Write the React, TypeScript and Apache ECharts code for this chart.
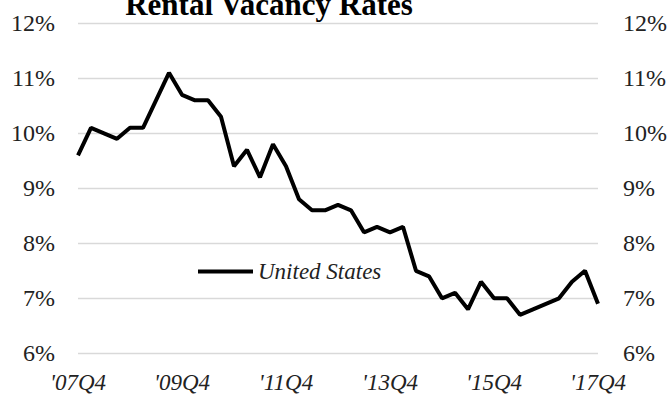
import React, { useEffect, useRef } from "react";
import * as echarts from "echarts";

const categories: string[] = [];
const years = [7, 8, 9, 10, 11, 12, 13, 14, 15, 16, 17];
years.forEach((y, i) => {
  const yy = (y < 10 ? "0" : "") + y;
  if (i === 0) categories.push(`'${yy}Q4`);
  else ["Q1", "Q2", "Q3", "Q4"].forEach((q) => categories.push(`'${yy}${q}`));
});

const unitedStates = [
  9.6, 10.1, 10.0, 9.9, 10.1, 10.1, 10.6, 11.1, 10.7, 10.6, 10.6, 10.3, 9.4, 9.7,
  9.2, 9.8, 9.4, 8.8, 8.6, 8.6, 8.7, 8.6, 8.2, 8.3, 8.2, 8.3, 7.5, 7.4, 7.0, 7.1,
  6.8, 7.3, 7.0, 7.0, 6.7, 6.8, 6.9, 7.0, 7.3, 7.5, 6.9,
];

const titleText = "Rental Vacancy Rates";
const seriesName = "United States";
const yMin = 6;
const yMax = 12;

const FONT = "Liberation Serif";

export default function App() {
  const ref = useRef<HTMLDivElement>(null);
  useEffect(() => {
    if (!ref.current) return;
    const chart = echarts.init(ref.current, undefined, { renderer: "svg" });
    const labelStyle = {
      fontFamily: FONT,
      fontSize: 24,
      color: "#222",
    };
    chart.setOption({
      animation: false,
      backgroundColor: "#fff",
      textStyle: { fontFamily: FONT },
      graphic: [
        {
          type: "text",
          x: 269,
          y: -11,
          style: {
            text: titleText,
            fontFamily: FONT,
            fontWeight: "bold",
            fontSize: 31,
            fill: "#000",
            textAlign: "center",
            textVerticalAlign: "top",
          },
        },
      ],
      grid: { left: 78, right: 72, top: 23.3, bottom: 46.7, containLabel: false },
      legend: {
        left: 198,
        top: 260,
        padding: 0,
        itemWidth: 55,
        itemHeight: 4,
        itemGap: 5,
        icon: "rect",
        data: [seriesName],
        textStyle: {
          fontFamily: FONT,
          fontStyle: "italic",
          fontSize: 23,
          color: "#222",
          padding: [0, 0, 0, 0],
        },
      },
      xAxis: {
        type: "category",
        data: categories,
        boundaryGap: false,
        axisLine: { show: false },
        axisTick: { show: false },
        splitLine: { show: false },
        axisLabel: {
          interval: 7,
          fontFamily: FONT,
          fontStyle: "italic",
          fontSize: 23,
          color: "#222",
          margin: 18,
        },
      },
      yAxis: [
        {
          type: "value",
          min: yMin,
          max: yMax,
          interval: 1,
          position: "left",
          axisLine: { show: false },
          axisTick: { show: false },
          axisLabel: { ...labelStyle, margin: 23, formatter: "{value}%" },
          splitLine: { show: true, lineStyle: { color: "#d9d9d9", width: 1.3 } },
        },
        {
          type: "value",
          min: yMin,
          max: yMax,
          interval: 1,
          position: "right",
          axisLine: { show: false },
          axisTick: { show: false },
          axisLabel: { ...labelStyle, margin: 25, formatter: "{value}%" },
          splitLine: { show: false },
        },
      ],
      series: [
        {
          name: seriesName,
          type: "line",
          data: unitedStates,
          yAxisIndex: 0,
          symbol: "none",
          color: "#000",
          lineStyle: { color: "#000", width: 4 },
        },
      ],
    });
    return () => chart.dispose();
  }, []);
  return (
    <div
      ref={ref}
      style={{ position: "absolute", left: 0, top: 0, width: 670, height: 400 }}
    />
  );
}
